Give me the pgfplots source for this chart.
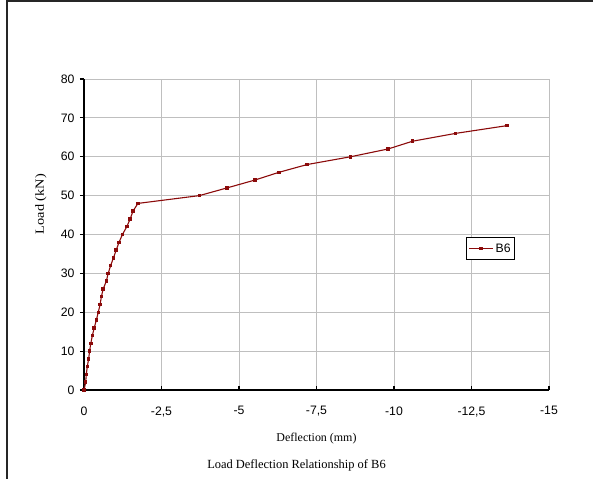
\documentclass[border=0pt]{standalone}
\usepackage{fontspec}
\setmainfont{Liberation Serif}
\setsansfont{Liberation Sans}
\usepackage{graphicx}
\usepackage{pgfplots}
\pgfplotsset{compat=1.18}
\definecolor{lineRed}{HTML}{8B0A0A}
\begin{document}
\begin{tikzpicture}
\path[use as bounding box] (0,0) rectangle (593bp,479bp);
\fill[black!85] (6.35bp,0bp) rectangle (7.65bp,478.5bp);
\fill[black!85] (6.35bp,476.5bp) rectangle (593bp,478.5bp);
\begin{axis}[
  at={(84bp,89bp)}, anchor=south west,
  scale only axis, width=465bp, height=311bp,
  xmin=-15, xmax=0, ymin=0, ymax=80,
  x dir=reverse,
  axis x line=bottom, axis y line=left,
  axis line style={-, line width=1.5bp, black},
  xtick={0,-2.5,-5,-7.5,-10,-12.5,-15},
  xticklabels={0,{-2,5},-5,{-7,5},-10,{-12,5},-15},
  ytick={0,10,...,80},
  grid=major,
  major grid style={line width=0.8bp, black!25},
  major tick length=4bp,
  x tick style={line width=1.2bp, black},
  y tick style={line width=1.2bp, black},
  xtick align=inside, ytick align=outside,
  /pgf/number format/assume math mode=true,
  tick label style={font=\sffamily\fontsize{12.3}{14}\selectfont},
  x tick label style={yshift=-13bp},
  y tick label style={xshift=-2bp},
  xlabel={Deflection (mm)},
  xlabel style={font=\fontsize{12}{14}\selectfont, at={(axis description cs:0.5,-0.155)}, anchor=center},
  ylabel={\scalebox{1.15}[1]{Load (kN)}},
  ylabel style={font=\fontsize{12.5}{14}\selectfont, at={(axis description cs:-0.0925,0.598)}, anchor=center, rotate=0},
  legend style={at={(0.927,0.491)}, anchor=north east, draw=black, line width=0.8bp,
    font=\sffamily\fontsize{12.3}{14}\selectfont, inner xsep=2bp, inner ysep=4bp,
    legend cell align=left},
  legend image code/.code={\draw[#1, line width=1bp] (0bp,0bp) -- (24bp,0bp); \draw[#1, mark repeat=1] plot coordinates {(12bp,0bp)};},
  clip=false,
]
\addplot[color=lineRed, line width=1.1bp, mark=square*, mark size=1.2bp, mark options={solid, fill=lineRed}]
coordinates {
(0,0) (-0.055,2) (-0.074,4) (-0.106,6) (-0.15,8) (-0.18,10) (-0.22,12) (-0.27,14)
(-0.33,16) (-0.40,18) (-0.46,20) (-0.52,22) (-0.56,24) (-0.62,26) (-0.72,28)
(-0.78,30) (-0.86,32) (-0.95,34) (-1.04,36) (-1.13,38) (-1.24,40) (-1.38,42)
(-1.49,44) (-1.58,46) (-1.74,48)
(-3.72,50) (-4.62,52) (-5.51,54) (-6.29,56) (-7.20,58) (-8.60,60) (-9.81,62)
(-10.60,64) (-11.98,66) (-13.64,68)
};
\addlegendentry{B6}
\end{axis}
\node[font=\fontsize{12.5}{15}\selectfont, anchor=center] at (296.5bp,14bp) {Load Deflection Relationship of B6};
\end{tikzpicture}
\end{document}
